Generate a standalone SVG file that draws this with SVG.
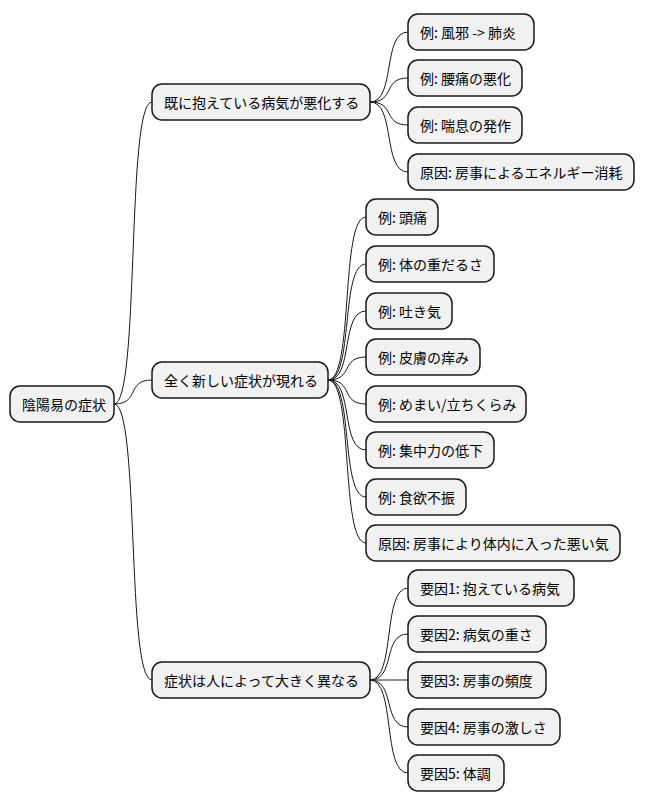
<svg xmlns="http://www.w3.org/2000/svg" width="646" height="808" viewBox="0 0 646 808">
<style>
.n rect{fill:#F1F1F1;stroke:#181818;stroke-width:1.5}
.n text{font-family:"Noto Sans CJK JP","Noto Sans",sans-serif;font-size:14px;fill:#000;dominant-baseline:central}
#c path{fill:none;stroke:#181818;stroke-width:1}
</style>
<rect width="646" height="808" fill="#fff"/>
<g id="c">
<path d="M114 404 C140 404,126 102,152 102"/>
<path d="M114 404 C140 404,126 380,152 380"/>
<path d="M114 404 C140 404,126 680,152 680"/>
<path d="M370 102 C396 102,382 32,408 32"/>
<path d="M370 102 C396 102,382 78,408 78"/>
<path d="M370 102 C396 102,382 125,408 125"/>
<path d="M370 102 C396 102,382 172,408 172"/>
<path d="M328 380 C354 380,340 217,366 217"/>
<path d="M328 380 C354 380,340 264,366 264"/>
<path d="M328 380 C354 380,340 311,366 311"/>
<path d="M328 380 C354 380,340 357,366 357"/>
<path d="M328 380 C354 380,340 404,366 404"/>
<path d="M328 380 C354 380,340 450,366 450"/>
<path d="M328 380 C354 380,340 497,366 497"/>
<path d="M328 380 C354 380,340 543,366 543"/>
<path d="M370 680 C396 680,382 588,408 588"/>
<path d="M370 680 C396 680,382 634,408 634"/>
<path d="M370 680 C396 680,382 680,408 680"/>
<path d="M370 680 C396 680,382 727,408 727"/>
<path d="M370 680 C396 680,382 773,408 773"/>
</g>
<g id="root" class="n"><rect x="10" y="386" width="104" height="36" rx="10"/><text x="22" y="404">陰陽易の症状</text></g>
<g id="a" class="n"><rect x="152" y="84" width="218" height="36" rx="10"/><text x="164" y="102">既に抱えている病気が悪化する</text></g>
<g id="b" class="n"><rect x="152" y="362" width="176" height="36" rx="10"/><text x="164" y="380">全く新しい症状が現れる</text></g>
<g id="cc" class="n"><rect x="152" y="662" width="218" height="36" rx="10"/><text x="164" y="680">症状は人によって大きく異なる</text></g>
<g id="a1" class="n"><rect x="408" y="14" width="126" height="36" rx="10"/><text x="420" y="32">例: 風邪 -&gt; 肺炎</text></g>
<g id="a2" class="n"><rect x="408" y="60" width="114" height="36" rx="10"/><text x="420" y="78">例: 腰痛の悪化</text></g>
<g id="a3" class="n"><rect x="408" y="107" width="114" height="36" rx="10"/><text x="420" y="125">例: 喘息の発作</text></g>
<g id="a4" class="n"><rect x="408" y="154" width="226" height="36" rx="10"/><text x="420" y="172">原因: 房事によるエネルギー消耗</text></g>
<g id="b1" class="n"><rect x="366" y="199" width="72" height="36" rx="10"/><text x="378" y="217">例: 頭痛</text></g>
<g id="b2" class="n"><rect x="366" y="246" width="128" height="36" rx="10"/><text x="378" y="264">例: 体の重だるさ</text></g>
<g id="b3" class="n"><rect x="366" y="293" width="86" height="36" rx="10"/><text x="378" y="311">例: 吐き気</text></g>
<g id="b4" class="n"><rect x="366" y="339" width="114" height="36" rx="10"/><text x="378" y="357">例: 皮膚の痒み</text></g>
<g id="b5" class="n"><rect x="366" y="386" width="160" height="36" rx="10"/><text x="378" y="404">例: めまい/立ちくらみ</text></g>
<g id="b6" class="n"><rect x="366" y="432" width="128" height="36" rx="10"/><text x="378" y="450">例: 集中力の低下</text></g>
<g id="b7" class="n"><rect x="366" y="479" width="100" height="36" rx="10"/><text x="378" y="497">例: 食欲不振</text></g>
<g id="b8" class="n"><rect x="366" y="525" width="254" height="36" rx="10"/><text x="378" y="543">原因: 房事により体内に入った悪い気</text></g>
<g id="c1" class="n"><rect x="408" y="570" width="166" height="36" rx="10"/><text x="420" y="588">要因1: 抱えている病気</text></g>
<g id="c2" class="n"><rect x="408" y="616" width="138" height="36" rx="10"/><text x="420" y="634">要因2: 病気の重さ</text></g>
<g id="c3" class="n"><rect x="408" y="662" width="138" height="36" rx="10"/><text x="420" y="680">要因3: 房事の頻度</text></g>
<g id="c4" class="n"><rect x="408" y="709" width="152" height="36" rx="10"/><text x="420" y="727">要因4: 房事の激しさ</text></g>
<g id="c5" class="n"><rect x="408" y="755" width="96" height="36" rx="10"/><text x="420" y="773">要因5: 体調</text></g>
</svg>
